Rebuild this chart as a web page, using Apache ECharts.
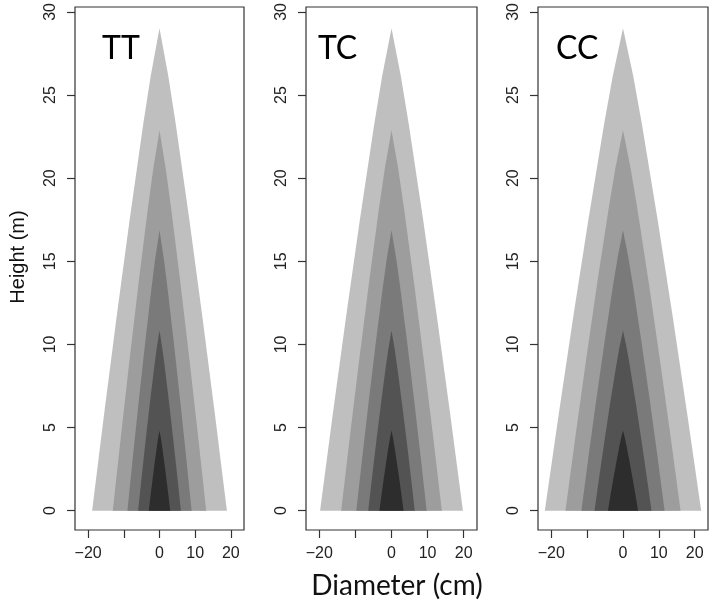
<!DOCTYPE html>
<html style="height: 100%">
<head>
<meta charset="utf-8">
<title>Stem profiles</title>
<script src="https://cdn.jsdelivr.net/npm/echarts@6.0.0/dist/echarts.min.js"></script>
</head>
<body style="height: 100%; margin: 0; background: #fff">
<div id="target" style="width: 709px; height: 601px"></div>
<script>
// panel names
const panels = ["TT", "TC", "CC"];

// heights (m) of the sampled points of each nested profile, inner -> outer
const layerHeights = [
    [0, 0.96, 1.92, 2.88, 3.84, 4.32, 4.8],
    [0, 2.16, 4.32, 6.48, 8.64, 9.72, 10.8],
    [0, 3.36, 6.72, 10.08, 13.44, 15.12, 16.8],
    [0, 4.56, 9.12, 13.68, 18.24, 20.52, 22.8],
    [0, 5.78, 11.56, 17.34, 23.12, 26.01, 28.9],
];

// half diameters (cm) at those heights, per panel
const radiiTT = [
    [3.0, 2.47, 1.91, 1.34, 0.73, 0.40, 0],
    [6.0, 4.93, 3.83, 2.68, 1.46, 0.79, 0],
    [9.0, 7.40, 5.74, 4.01, 2.19, 1.19, 0],
    [13.1, 10.77, 8.36, 5.84, 3.18, 1.73, 0],
    [18.9, 15.54, 12.06, 8.43, 4.59, 2.49, 0],
];
const radiiTC = [
    [3.35, 2.75, 2.14, 1.49, 0.81, 0.44, 0],
    [6.45, 5.30, 4.12, 2.88, 1.57, 0.85, 0],
    [9.75, 8.01, 6.22, 4.35, 2.37, 1.29, 0],
    [13.95, 11.47, 8.90, 6.22, 3.39, 1.84, 0],
    [19.8, 16.28, 12.63, 8.83, 4.81, 2.61, 0],
];
const radiiCC = [
    [4.2, 3.45, 2.68, 1.87, 1.02, 0.55, 0],
    [7.95, 6.53, 5.07, 3.55, 1.93, 1.05, 0],
    [11.6, 9.54, 7.40, 5.17, 2.82, 1.53, 0],
    [16.05, 13.19, 10.24, 7.16, 3.90, 2.12, 0],
    [21.8, 17.92, 13.91, 9.72, 5.30, 2.88, 0],
];
const panelRadii = [radiiTT, radiiTC, radiiCC];

// axis ranges and tick values
const xRange = [-23.7, 23.7];
const yRange = [-1.16, 30.18];
const xTickRange = [-20, 20];
const yTickRange = [0, 30];
const xHiddenLabels = [-10];

// fill per layer, inner -> outer
const layerColors = ["#2d2d2d", "#535353", "#7a7a7a", "#9d9d9d", "#bfbfbf"];

let chart = echarts.init(document.getElementById('target'));

// plot boxes in pixels
const boxes = [
    { left: 75, top: 7, width: 169, height: 523 },
    { left: 306, top: 7, width: 171, height: 523 },
    { left: 538, top: 7, width: 170, height: 523 },
];

const tickFont = "Liberation Sans";
const boxColor = "#333";

let grids = [], xAxes = [], yAxes = [], series = [], graphics = [];

panels.forEach((name, p) => {
    let b = boxes[p];

    // --- data grid: the box and the polygons
    let gi = grids.length;
    grids.push({
        left: b.left, top: b.top, width: b.width, height: b.height,
        show: true,
        borderColor: boxColor,
        borderWidth: 1.2,
    });
    xAxes.push({ type: "value", gridIndex: gi, min: xRange[0], max: xRange[1], show: false });
    yAxes.push({ type: "value", gridIndex: gi, min: yRange[0], max: yRange[1], show: false });

    // --- tick grid: covers just the tick span, axes pushed out to the box edge
    let pxX = b.width / (xRange[1] - xRange[0]);
    let pxY = b.height / (yRange[1] - yRange[0]);
    let tLeft = b.left + (xTickRange[0] - xRange[0]) * pxX;
    let tWidth = (xTickRange[1] - xTickRange[0]) * pxX;
    let tTop = b.top + (yRange[1] - yTickRange[1]) * pxY;
    let tHeight = (yTickRange[1] - yTickRange[0]) * pxY;
    let ti = grids.length;
    grids.push({ left: tLeft, top: tTop, width: tWidth, height: tHeight, show: false });

    xAxes.push({
        type: "value",
        gridIndex: ti,
        position: "bottom",
        min: xTickRange[0],
        max: xTickRange[1],
        interval: 10,
        offset: (b.top + b.height) - (tTop + tHeight),
        splitLine: { show: false },
        axisLine: { show: false, onZero: false },
        axisTick: {
            show: true,
            length: 8,
            lineStyle: { color: boxColor, width: 1.2 },
        },
        axisLabel: {
            fontFamily: tickFont,
            fontSize: 16,
            color: "#222",
            margin: 16,
            formatter: v => xHiddenLabels.includes(v) ? "" : String(v).replace("-", "\u2212"),
        },
    });

    yAxes.push({
        type: "value",
        gridIndex: ti,
        position: "left",
        min: yTickRange[0],
        max: yTickRange[1],
        interval: 5,
        offset: tLeft - b.left,
        splitLine: { show: false },
        axisLine: { show: false, onZero: false },
        axisTick: {
            show: true,
            length: 8,
            lineStyle: { color: boxColor, width: 1.2 },
        },
        axisLabel: {
            rotate: 90,
            fontFamily: tickFont,
            fontSize: 16,
            color: "#222",
            margin: 16,
        },
    });

    // outer layer drawn first, inner layers on top
    series.push({
        type: "custom",
        xAxisIndex: gi,
        yAxisIndex: gi,
        silent: true,
        animation: false,
        data: [[4], [3], [2], [1], [0]],
        renderItem: (params, api) => {
            let layer = api.value(0);
            let hs = layerHeights[layer];
            let rs = panelRadii[p][layer];
            let pts = [];
            for (let k = 0; k < hs.length; k++)
            {
                pts.push(api.coord([-rs[k], hs[k]]));
            }
            for (let k = hs.length - 2; k >= 0; k--)
            {
                pts.push(api.coord([rs[k], hs[k]]));
            }
            return {
                type: "polygon",
                shape: { points: pts },
                style: { fill: layerColors[layer], stroke: null },
            };
        },
    });

    // panel label
    graphics.push({
        type: "text",
        x: b.left + [27, 12, 18][p],
        y: 49,
        style: {
            text: name,
            fontFamily: "Lato",
            fontSize: 32,
            fill: "#000",
            textAlign: "left",
            textVerticalAlign: "middle",
        },
    });
});

graphics.push({
    type: "text",
    x: 18,
    y: 257,
    rotation: Math.PI / 2,
    style: {
        text: "Height (m)",
        fontFamily: tickFont,
        fontSize: 20,
        fill: "#111",
        textAlign: "center",
        textVerticalAlign: "middle",
    },
});

graphics.push({
    type: "text",
    x: 397,
    y: 586,
    style: {
        text: "Diameter (cm)",
        fontFamily: "Lato",
        fontSize: 28,
        fill: "#111",
        textAlign: "center",
        textVerticalAlign: "middle",
    },
});

chart.setOption({
    backgroundColor: "#fff",
    animation: false,
    grid: grids,
    xAxis: xAxes,
    yAxis: yAxes,
    series: series,
    graphic: graphics,
});
</script>
</body>
</html>
